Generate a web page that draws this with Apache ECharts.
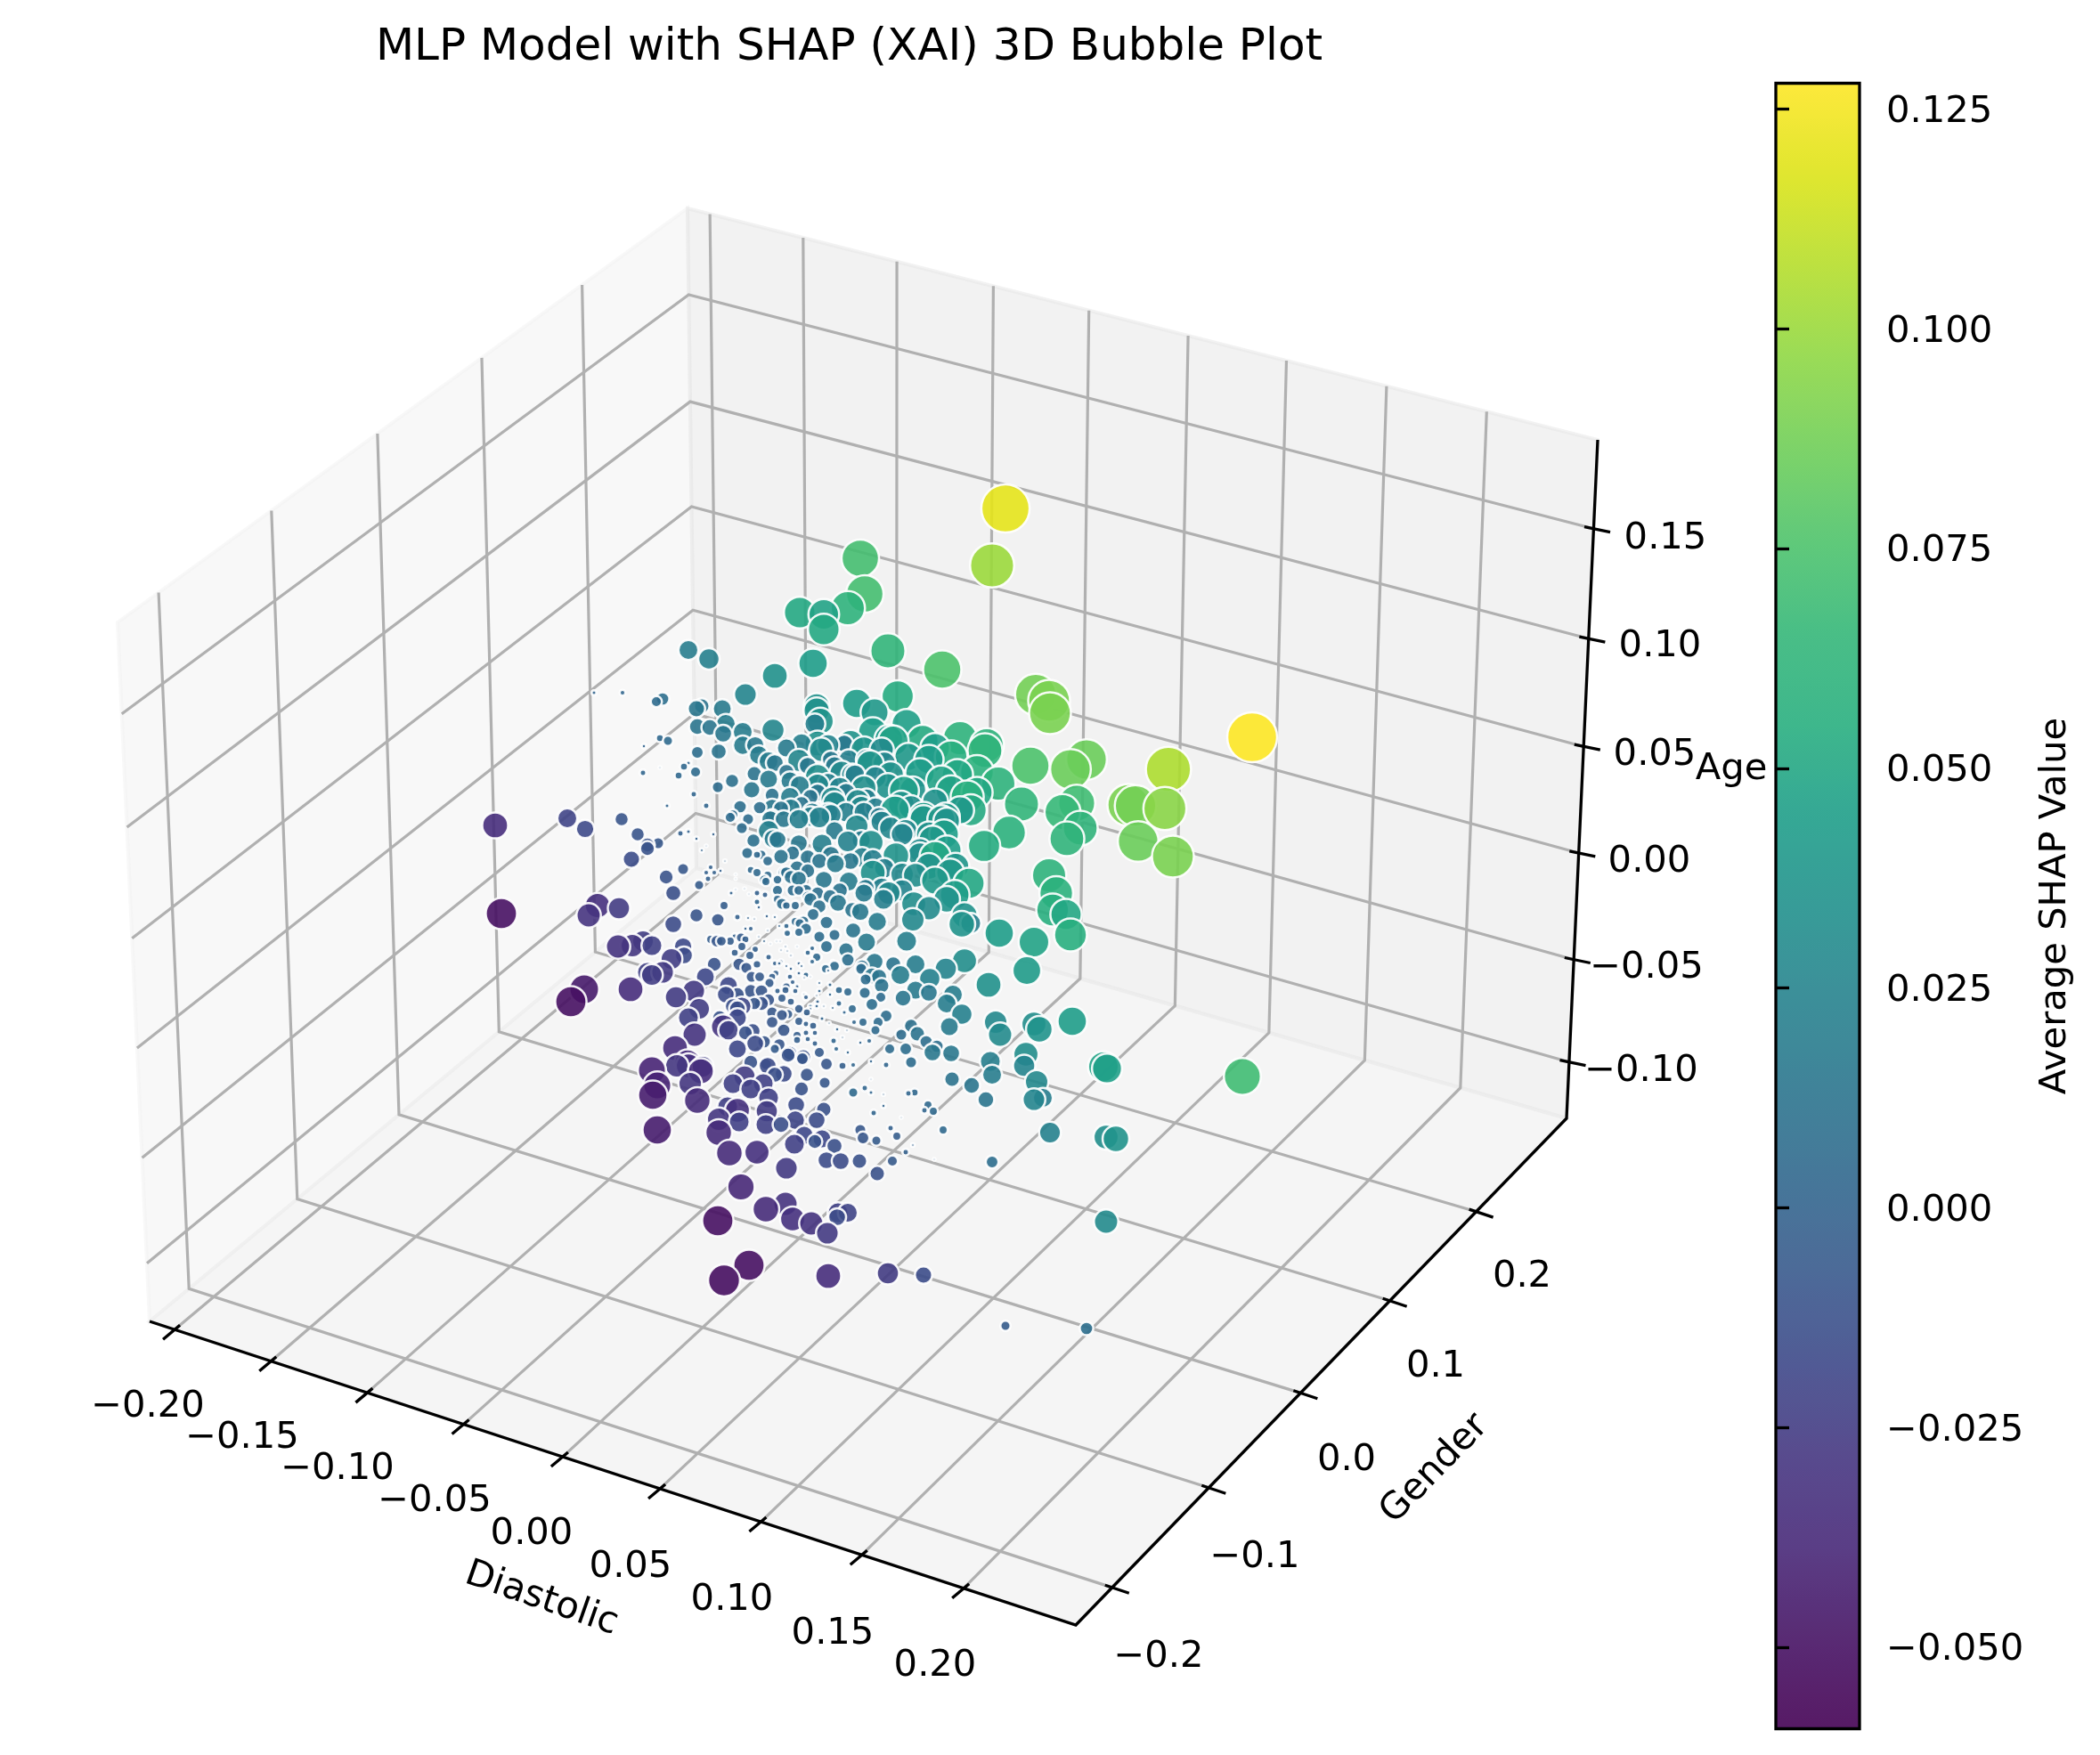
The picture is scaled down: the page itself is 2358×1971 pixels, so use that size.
<!DOCTYPE html>
<html><head><meta charset="utf-8">
<style>html,body{margin:0;padding:0;background:#fff}#c{width:2358px;height:1971px}</style>
<script src="https://cdn.jsdelivr.net/npm/echarts@6/dist/echarts.min.js"></script>
</head><body><div id="c"></div>
<script>
// ---------- chart values ----------
const titleText = 'MLP Model with SHAP (XAI) 3D Bubble Plot';
const xTicks = ['−0.20','−0.15','−0.10','−0.05','0.00','0.05','0.10','0.15','0.20'];
const yTicks = ['−0.2','−0.1','0.0','0.1','0.2'];
const zTicks = ['0.15','0.10','0.05','0.00','−0.05','−0.10'];
const colorTicks = [-0.05,-0.025,0,0.025,0.05,0.075,0.1,0.125];
const shapRange = [-0.05926, 0.12794];
const viridis = ['#440154','#471365','#482878','#453781','#3e4989','#38598c','#31688e','#2b758e','#26828e','#21918c','#1f9e89','#29af7f','#35b779','#4ec36b','#6ece58','#8fd744','#b5de2b','#dde318','#fde725'];
// Each bubble: position on the plot's projected plane, average SHAP value
const bubbles = [
[966,627,.072],[971,667,.072],[952,683,.06],[898,688,.051],[925,690,.048],[925,707,.051],[913,745,.044],[997,731,.063],[870,759,.034],[837,780,.026],
[773,730,.02],[796,740,.023],[744,785,.009],[737,788,.006],[699,778,.0015],[667,778,.001],[782,796,.015],[788,793,.012],[811,796,.018],[783,816,.014],
[797,817,.014],[815,813,.02],[812,824,.016],[834,822,.02],[834,837,.019],[848,837,.017],[868,820,.027],[852,848,.019],[863,855,.02],[807,844,.013],
[783,845,.008],[741,829,.003],[750,832,.005],[723,838,.0008],[768,861,.003],[773,857,.001],[781,867,.006],[762,871,.003],[741,862,.0003],[722,868,.002],
[806,884,.007],[822,877,.01],[844,887,.015],[847,869,.012],[863,875,.018],[897,854,.027],[917,793,.034],[917,798,.035],[921,810,.037],[915,813,.022],
[918,835,.034],[922,842,.03],[962,790,.044],[982,800,.04],[980,822,.044],[1008,782,.053],[955,835,.037],[948,835,.016],[970,842,.036],[998,830,.042],
[990,842,.03],[977,858,.038],[945,868,.03],[957,870,.025],[918,872,.032],[918,882,.028],[918,890,.016],[887,877,.018],[898,882,.02],[887,895,.02],
[935,897,.03],[943,885,.025],[970,885,.033],[963,900,.03],[997,883,.035],[867,907,.016],[831,906,.009],[793,905,.002],[779,892,.002],[749,905,.001],
[1129,571,.12],[1114,635,.1],[1058,752,.075],[1163,780,.088],[1178,787,.09],[1179,801,.09],[1406,828,.128],[1312,864,.105],[1220,853,.085],[1202,864,.085],
[1157,860,.075],[1308,908,.095],[1267,904,.09],[1275,905,.088],[1209,902,.07],[1193,912,.066],[1213,930,.062],[1147,903,.063],[1121,880,.06],[1097,867,.058],
[1106,843,.062],[1108,837,.06],[1078,829,.06],[1068,850,.055],[1036,832,.052],[1018,813,.046],[1003,832,.048],[1033,868,.044],[1057,877,.048],[1068,888,.048],
[1086,895,.056],[1090,910,.052],[1015,888,.046],[1005,910,.044],[1037,917,.044],[1062,917,.04],[1278,945,.085],[1317,962,.09],[1198,942,.062],[1133,935,.058],
[1105,950,.053],[1178,983,.06],[1186,1003,.058],[1182,1022,.055],[1197,1027,.05],[1202,1050,.055],[1122,1048,.044],[1161,1058,.048],[1153,1090,.042],[1110,1106,.034],
[1204,1147,.044],[1167,1156,.036],[1161,1150,.032],[1118,1148,.028],[1123,1162,.03],[1152,1184,.032],[1150,1197,.025],[1239,1198,.048],[1243,1200,.046],[1088,992,.05],
[1072,1005,.045],[1050,989,.04],[1083,1028,.035],[1080,1038,.036],[1090,1037,.022],[1026,1015,.032],[1043,1020,.03],[1025,1033,.028],[1018,1057,.022],[998,1003,.028],
[992,1010,.022],[973,1058,.018],[985,1035,.019],[966,1024,.017],[970,1003,.018],[941,1014,.016],[953,990,.02],[980,980,.034],[978,946,.032],[1006,961,.036],
[1037,920,.04],[1050,962,.05],[1063,955,.045],[1063,922,.036],[923,948,.022],[952,945,.024],[962,928,.028],[938,970,.018],[968,963,.022],[925,988,.016],
[907,978,.011],[910,1010,.01],[920,1018,.01],[928,1063,.008],[950,1067,.012],[952,1078,.009],[958,1045,.013],[937,1050,.007],[928,1036,.009],[913,1027,.008],
[902,1035,.007],[982,1080,.016],[979,1096,.014],[967,1088,.007],[990,1107,.012],[1003,1083,.013],[1011,1095,.02],[1028,1083,.02],[1044,1099,.023],[1062,1088,.025],
[1083,1079,.032],[1028,1112,.018],[1043,1115,.016],[1014,1121,.014],[1070,1117,.02],[1063,1127,.02],[1080,1139,.023],[1066,1153,.018],[995,1141,.008],[979,1128,.008],
[971,1115,.007],[989,1120,.006],[952,1114,.004],[942,1112,.003],[932,1106,.001],[932,1117,.0008],[920,1104,.0006],[957,1133,.004],[942,1127,.002],[935,1132,.0006],
[969,1148,.004],[986,1148,.006],[983,1157,.005],[959,1148,.0015],[948,1137,.001],[951,1157,.0004],[940,1156,.0008],[931,1149,.0004],[923,1144,.001],[910,1130,.001],
[913,1152,-.003],[903,1117,.0006],[1023,1152,.01],[1012,1162,.007],[1030,1161,.012],[1040,1170,.009],[1052,1175,.009],[1047,1182,.016],[1068,1183,.016],[1017,1178,.008],
[999,1178,.006],[1023,1193,.007],[995,1196,.002],[976,1169,.0015],[966,1171,.0008],[978,1192,.0008],[958,1196,.0015],[946,1197,-.003],[936,1169,.002],[939,1178,.0015],
[952,1182,.0008],[946,1165,.0004],[902,1187,-.012],[920,1182,-.006],[928,1195,-.008],[906,1137,-.003],[937,902,.028],[920,918,.024],
[1179,1272,.024],[1242,1277,.032],[1253,1279,.036],[1395,1209,.07],[1164,1215,.028],[1171,1233,.02],[1161,1235,.026],[1112,1192,.022],[1114,1207,.02],[1069,1212,.012],
[1091,1219,.014],[1107,1235,.014],[1059,1269,.004],[1114,1305,.008],[1042,1241,.004],[1048,1248,.004],[1038,1247,.002],[1027,1227,.003],[1020,1228,.002],[1007,1276,-.004],
[1000,1267,-.002],[1017,1294,-.002],[1025,1286,-.0005],[1002,1304,-.006],[1012,1255,.0003],[1049,1302,.0003],[1129,1489,-.005],[1220,1492,.009],[1242,1372,.03],
[732,1202,-.04],[738,1219,-.04],[733,1230,-.044],[738,1269,-.044],[773,1197,-.032],[760,1197,-.028],[787,1203,-.034],[783,1236,-.036],[775,1217,-.028],[807,1272,-.036],
[807,1257,-.028],[819,1295,-.036],[850,1294,-.032],[828,1247,-.032],[830,1260,-.022],[817,1243,-.022],[823,1217,-.022],[836,1209,-.025],[843,1223,-.022],[857,1217,-.022],
[861,1248,-.025],[860,1263,-.022],[863,1233,-.022],[862,1197,-.016],[870,1207,-.013],[880,1206,-.016],[900,1223,-.011],[906,1207,-.01],[901,1189,-.008],[885,1185,-.011],
[926,1216,-.007],[894,1241,-.016],[925,1246,-.012],[893,1258,-.019],[917,1258,-.016],[903,1275,-.018],[877,1263,-.014],[892,1285,-.022],[923,1279,-.018],[915,1282,-.011],
[937,1287,-.013],[928,1303,-.016],[944,1304,-.016],[965,1304,-.012],[883,1312,-.026],[985,1318,-.012],[832,1333,-.038],[860,1358,-.036],[882,1352,-.03],[890,1369,-.032],
[911,1374,-.03],[929,1385,-.026],[941,1362,-.022],[952,1362,-.02],[940,1367,-.016],[806,1371,-.05],[841,1421,-.05],[813,1438,-.052],[930,1433,-.034],[997,1430,-.025],
[1037,1432,-.015],[984,1281,-.005],[966,1269,-.007],[969,1278,-.008],[958,1227,.005],[971,1222,.002],[978,1227,.001],[992,1229,.0004],[992,1242,.0008],[981,1250,.002],
[978,1212,.0003],
[556,927,-.034],[563,1026,-.05],[637,919,-.02],[657,931,-.017],[698,920,-.01],[716,937,-.01],[727,949,-.011],[739,947,-.007],[727,953,-.011],[709,965,-.015],
[748,985,-.011],[756,1003,-.013],[767,976,-.007],[764,936,-.002],[773,934,-.001],[782,942,-.0008],[801,937,-.0008],[793,950,-.0003],[788,955,-.0006],[814,967,-.0004],
[809,978,-.0008],[798,974,-.0015],[802,980,-.0015],[793,980,-.0015],[795,987,-.002],[785,994,-.005],[821,1003,-.001],[826,999,-.0003],[826,982,-.0002],[826,987,-.0002],
[836,998,-.0003],[841,1004,-.0003],[850,1003,-.002],[859,1005,-.002],[852,1019,-.0008],[861,1029,-.0008],[813,1017,-.004],[782,1028,-.01],[828,1030,-.002],[840,1031,-.0006],
[847,1032,-.0004],[806,1033,-.009],[756,1038,-.016],[695,1020,-.025],[671,1017,-.033],[661,1028,-.03],[694,1063,-.03],[710,1062,-.028],[722,1057,-.024],[732,1062,-.022],
[767,1063,-.017],[768,1073,-.016],[754,1077,-.024],[727,1092,-.022],[732,1095,-.024],[744,1092,-.026],[708,1111,-.034],[656,1111,-.045],[641,1125,-.05],[759,1120,-.025],
[779,1113,-.026],[792,1097,-.018],[802,1083,-.011],[785,1133,-.024],[773,1143,-.022],[780,1162,-.03],[758,1177,-.034],[772,1193,-.034],[789,1198,-.024],[812,1153,-.03],
[808,1143,-.011],[818,1107,-.018],[828,1143,-.018],[828,1133,-.014],[830,1083,-.009],[843,1113,-.01],[855,1127,-.011],[844,1097,-.007],[850,1083,-.0035],[863,1075,-.002],
[828,1178,-.018],[848,1172,-.016],[845,1158,-.013],[867,1137,-.007],[864,1104,-.005],[871,1093,-.0025],[883,1108,-.0035],[878,1121,-.004],[888,1125,-.003],[885,1139,-.005],
[897,1147,-.004],[880,1157,-.009],[887,1183,-.011],[870,1178,-.005],[860,1195,-.007],[843,1193,-.011],[890,1103,-.0015],[895,1108,-.001],[888,1088,-.0008],[884,1068,-.0004],
[876,1057,-.0003],[870,1082,-.0015],[832,1053,-.005],[805,1057,-.008],[833,1063,-.004],[848,1066,-.0025],[843,1043,-.0015],[837,1043,-.0008],[852,1052,-.0004],[865,1060,-.0003],
[884,1048,.0025],[893,1035,.004],[898,1037,.005],[878,1015,.007],[873,1000,.006],[888,985,.01],[860,990,.004],[850,980,.004],[839,958,.007],[846,944,.01],
[833,930,.007],[820,918,.006],[868,942,.018],[888,908,.02],[865,920,.016],[877,962,.012],[897,947,.016],[895,975,.012],[880,980,.007],[858,988,.005],
[855,960,.005],[890,1000,.007],[893,1017,.004],[905,1000,.008],[912,1065,.0015],[900,1085,.0006],[905,1095,.002],[912,1080,.0015],[875,1040,.0006],[862,1045,.0004],
[930,1090,.0006],[920,1075,.001],[935,1080,.0005],[905,1160,-.002],[895,1168,-.003],[915,1172,-.002],[905,1120,-.0015],[918,1125,-.001]
];
const crowdBubbles = [
[933,915,.023],[910,917,.0215],[967,907,.028],[990,923,.025],[1013,937,.026],[1033,955,.03],[1043,937,.034],[1057,920,.04],[983,907,.0215],[1023,907,.032],
[937,933,.018],[907,963,.013],[920,967,.013],[933,960,.016],[967,943,.0186],[955,967,.016],[980,965,.0215],[993,975,.0215],[1013,982,.028],[1028,983,.032],
[1043,973,.036],[1073,973,.038],[1063,1010,.036],[1013,1000,.025],[990,997,.0215],[972,997,.016],[943,1000,.013],[932,1007,.011],[918,1003,.009],[907,1007,.007],
[957,1022,.013],[905,1043,.007],[920,1052,.007],[917,1075,.004],[937,1085,.0057],[927,1088,.004],[907,1070,.0018],[968,1085,.009],[987,1097,.013],[972,1100,.007],
[833,1130,-.0186],[818,1157,-.0215],[837,1160,-.011],[867,1148,-.0078],[858,1170,-.009],[875,1173,-.0078],[895,1163,-.004],[897,1133,-.0045],[878,1140,-.007],[863,1123,-.0085],
[855,1113,-.009],[847,1127,-.009],[867,1097,-.003],[853,1097,-.0057],[838,1087,-.007],[828,1117,-.011],[815,1117,-.016],[823,1130,-.013],[882,1112,-.003],[873,1113,-.002],
[893,1113,-.0018],[887,1097,-.0018],[877,1080,-.001],[897,1082,-.0009],[858,1057,-.0006],[842,1073,-.004],[825,1070,-.003],[820,1057,-.004],[825,1052,-.002],[837,1055,-.003],
[810,1057,-.0057],[798,1055,-.004],[863,933,.023],[873,943,.016],[880,920,.016],[897,920,.0215],[883,980,.0078],[897,987,.013],[873,988,.0045],[850,960,.003],
[862,967,.0057],[890,958,.011],[843,977,.003],[862,983,.004],[873,1010,.004],[850,1013,.002],[883,1017,.0035],[897,1000,.0057],[883,1040,.0018],[870,1030,.0006],
[897,1047,.004],[867,893,.011],[853,907,.009],[877,908,.013],[900,903,.013],[912,912,.0186],[930,913,.0215],[950,912,.0215],[970,912,.0215],[987,917,.0186],
[960,870,.0215],[983,873,.025],[950,890,.0186],[910,895,.013],[973,897,.0215],[867,917,.011],[840,920,.007],[823,915,.0057],[930,837,.025],[933,853,.016],
[900,835,.0215],[883,840,.018],[870,857,.016],[883,867,.013],[907,860,.016],[937,860,.0186],[953,853,.0215],[930,880,.023],[973,853,.023],[993,857,.027],
[1020,850,.04],[1050,840,.045],[1000,870,.036],[1025,887,.036],[1050,900,.034],[1078,910,.04],[1043,853,.044],[1012,903,.036],[1075,870,.05],[1097,890,.05],
[1047,943,.04],[1067,980,.04],[1033,960,.032],[1017,933,.028],[1000,930,.027],[1060,937,.045],
[872,1057,-.0003],[877,1067,-.0004],[882,1063,-.0004],[888,1073,-.0004],[895,1063,-.0003],[875,1082,-.0009],[883,1085,-.0006],[897,1093,-.0009],
[903,1098,.0004],[910,1097,.0003],[903,1117,.0006],[910,1133,.0006],[917,1118,.0004],[920,1113,.0009],[925,1130,.0004],[917,1130,.0009],[905,1150,-.002],[915,1160,-.0018],[907,1167,-.0018]
];
// ---------- drawing helpers (the plot's 3D box as seen on the page) ----------
const boxLeftTop=[132,699], boxBackTop=[772,234], boxRightTop=[1794,494];
const boxLeftBase=[168,1484], boxBackBase=[782,975], boxRightBase=[1759,1256], boxFrontBase=[1208,1825];
const xFracFront=[.027,.131,.235,.339,.446,.551,.66,.769,.879];
const xFracBack=[.0246,.127,.23,.336,.441,.55,.658,.768,.878];
const yFracRight=[.074,.271,.458,.64,.816];
const yFracLeft=[.072,.27,.456,.639,.815];
const zFrac=[.131,.293,.452,.609,.766,.917];
const xLabelPos=[[166,1580],[272,1615],[379,1650],[488,1686],[597,1723],[708,1760],[822,1797],[935,1835],[1050,1871]];
const yLabelPos=[[1301,1861],[1409,1749],[1512,1640],[1612,1535],[1709,1434]];
const zLabelPos=[[1870,605],[1864,726],[1858,848],[1852,968],[1849,1087],[1843,1203]];
const lerp=(a,b,t)=>[a[0]+(b[0]-a[0])*t,a[1]+(b[1]-a[1])*t];
const FONT='"DejaVu Sans"';
const TICKFS=41.67;

const panes=[
  {pts:[boxLeftTop,boxBackTop,boxBackBase,boxLeftBase],rgb:'242,242,242'},
  {pts:[boxBackTop,boxRightTop,boxRightBase,boxBackBase],rgb:'230,230,230'},
  {pts:[boxLeftBase,boxBackBase,boxRightBase,boxFrontBase],rgb:'236,236,236'}
];
const gridSegs=[];
xFracFront.forEach((f,i)=>{
  const a=lerp(boxLeftBase,boxFrontBase,f), b=lerp(boxBackBase,boxRightBase,xFracBack[i]), c=lerp(boxBackTop,boxRightTop,xFracBack[i]);
  gridSegs.push([a,b,c]);
});
yFracRight.forEach((f,i)=>{
  const a=lerp(boxFrontBase,boxRightBase,f), b=lerp(boxLeftBase,boxBackBase,yFracLeft[i]), c=lerp(boxLeftTop,boxBackTop,yFracLeft[i]);
  gridSegs.push([a,b,c]);
});
zFrac.forEach(f=>{
  gridSegs.push([lerp(boxLeftTop,boxLeftBase,f),lerp(boxBackTop,boxBackBase,f),lerp(boxRightTop,boxRightBase,f)]);
});
const axisSegs=[[boxLeftBase,boxFrontBase,boxRightBase,boxRightTop]];
const tickSegs=[];
xFracFront.forEach(f=>{const p=lerp(boxLeftBase,boxFrontBase,f);tickSegs.push([[p[0]+6,p[1]-5],[p[0]-13,p[1]+11]]);});
yFracRight.forEach(f=>{const p=lerp(boxFrontBase,boxRightBase,f);tickSegs.push([[p[0]-8,p[1]-2.6],[p[0]+19,p[1]+6.4]]);});
zFrac.forEach(f=>{const p=lerp(boxRightTop,boxRightBase,f);tickSegs.push([[p[0]-10.4,p[1]-2.2],[p[0]+18.6,p[1]+3.8]]);});
const texts=[];
xTicks.forEach((t,i)=>texts.push({t,p:xLabelPos[i],fs:TICKFS,r:0}));
yTicks.forEach((t,i)=>texts.push({t,p:yLabelPos[i],fs:TICKFS,r:0}));
zTicks.forEach((t,i)=>texts.push({t,p:zLabelPos[i],fs:TICKFS,r:0}));
texts.push({t:'Diastolic',p:[608,1796],fs:TICKFS,r:-0.335});
texts.push({t:'Gender',p:[1611,1650],fs:TICKFS,r:0.80});
texts.push({t:'Age',p:[1944,864],fs:TICKFS,r:0});

const sorted=bubbles.concat(crowdBubbles).sort((a,b)=>a[1]-b[1]);
const BORDER=2.5;
const sizeOf=s=>155*Math.sqrt(Math.abs(s))+3-BORDER;
const rgbOf=h=>{const n=parseInt(h.slice(1),16);return [n>>16,(n>>8)&255,n&255];};
const rgbaStops=viridis.map(h=>{const c=rgbOf(h);return `rgba(${c[0]},${c[1]},${c[2]},0.9)`;});
const barStops=viridis.map(h=>{const c=rgbOf(h).map(v=>Math.round(255-(255-v)*0.9));return `rgb(${c[0]},${c[1]},${c[2]})`;});

const chart=echarts.init(document.getElementById('c'),null,{renderer:'canvas',width:2358,height:1971});
chart.setOption({
  animation:false,
  backgroundColor:'#fff',
  title:{text:titleText,left:948.5,top:24,textAlign:'center',
    textStyle:{fontFamily:FONT,fontSize:50,fontWeight:'normal',color:'#000'}},
  tooltip:{show:false},
  grid:[
    {left:0,top:0,width:2358,height:1971,show:false},
    {left:1994,top:93.5,width:94,height:1848,show:true,backgroundColor:'transparent',borderColor:'#000',borderWidth:3.3,z:6}
  ],
  xAxis:[
    {type:'value',gridIndex:0,min:0,max:2358,show:false},
    {type:'value',gridIndex:1,min:0,max:1,show:false}
  ],
  yAxis:[
    {type:'value',gridIndex:0,min:0,max:1971,inverse:true,show:false},
    {type:'value',gridIndex:1,min:shapRange[0],max:shapRange[1],position:'right',z:7,
     name:'Average SHAP Value',nameLocation:'middle',nameRotate:90,nameGap:199,
     nameTextStyle:{fontFamily:FONT,fontSize:TICKFS,color:'#000'},
     splitLine:{show:false},
     axisLine:{show:false},
     axisTick:{show:true,length:15,inside:false,customValues:colorTicks,lineStyle:{color:'#000',width:3.3}},
     axisLabel:{show:true,margin:30,color:'#000',
       customValues:colorTicks,
       rich:{v:{fontFamily:FONT,fontSize:TICKFS,color:'#000',padding:[7,0,0,0]}},
       formatter:v=>'{v|'+(v<0?'−':'')+Math.abs(v).toFixed(3)+'}'}}
  ],
  visualMap:{
    type:'continuous',seriesIndex:[1],dimension:2,min:shapRange[0],max:shapRange[1],
    left:1994,top:93.5,itemWidth:94,itemHeight:1848,padding:0,text:null,showLabel:false,
    calculable:false,realtime:false,hoverLink:false,z:2,
    inRange:{color:rgbaStops},controller:{inRange:{color:barStops}},textStyle:{fontSize:1,color:'transparent'}
  },
  series:[
    {type:'custom',xAxisIndex:0,yAxisIndex:0,silent:true,z:1,clip:false,
     coordinateSystem:'cartesian2d',
     data:[[0,0]],
     encode:{x:0,y:1},
     renderItem:(params,api)=>{
       const C=p=>api.coord(p);
       const ch=[];
       panes.forEach(w=>ch.push({type:'polygon',shape:{points:w.pts.map(C)},
         style:{fill:`rgba(${w.rgb},0.5)`,stroke:`rgba(${w.rgb},0.5)`,lineWidth:4}}));
       gridSegs.forEach(s=>ch.push({type:'polyline',shape:{points:s.map(C)},
         style:{fill:null,stroke:'#b0b0b0',lineWidth:3.2,lineJoin:'miter'}}));
       axisSegs.forEach(s=>ch.push({type:'polyline',shape:{points:s.map(C)},
         style:{fill:null,stroke:'#000',lineWidth:3.3}}));
       tickSegs.forEach(s=>ch.push({type:'polyline',shape:{points:s.map(C)},
         style:{fill:null,stroke:'#000',lineWidth:3.3}}));
       texts.forEach(t=>{const q=C(t.p);ch.push({type:'text',x:q[0],y:q[1],rotation:t.r,
         style:{text:t.t,x:0,y:0,align:'center',verticalAlign:'middle',fill:'#000',
           font:`${t.fs}px ${FONT}`}});});
       return {type:'group',children:ch};
     }},
    {type:'scatter',xAxisIndex:0,yAxisIndex:0,z:3,silent:true,large:false,
     data:sorted,
     symbol:'circle',
     symbolSize:v=>sizeOf(v[2]),
     encode:{x:0,y:1},
     itemStyle:{borderColor:'rgba(255,255,255,0.92)',borderWidth:BORDER,opacity:1}}
  ]
});
</script></body></html>
